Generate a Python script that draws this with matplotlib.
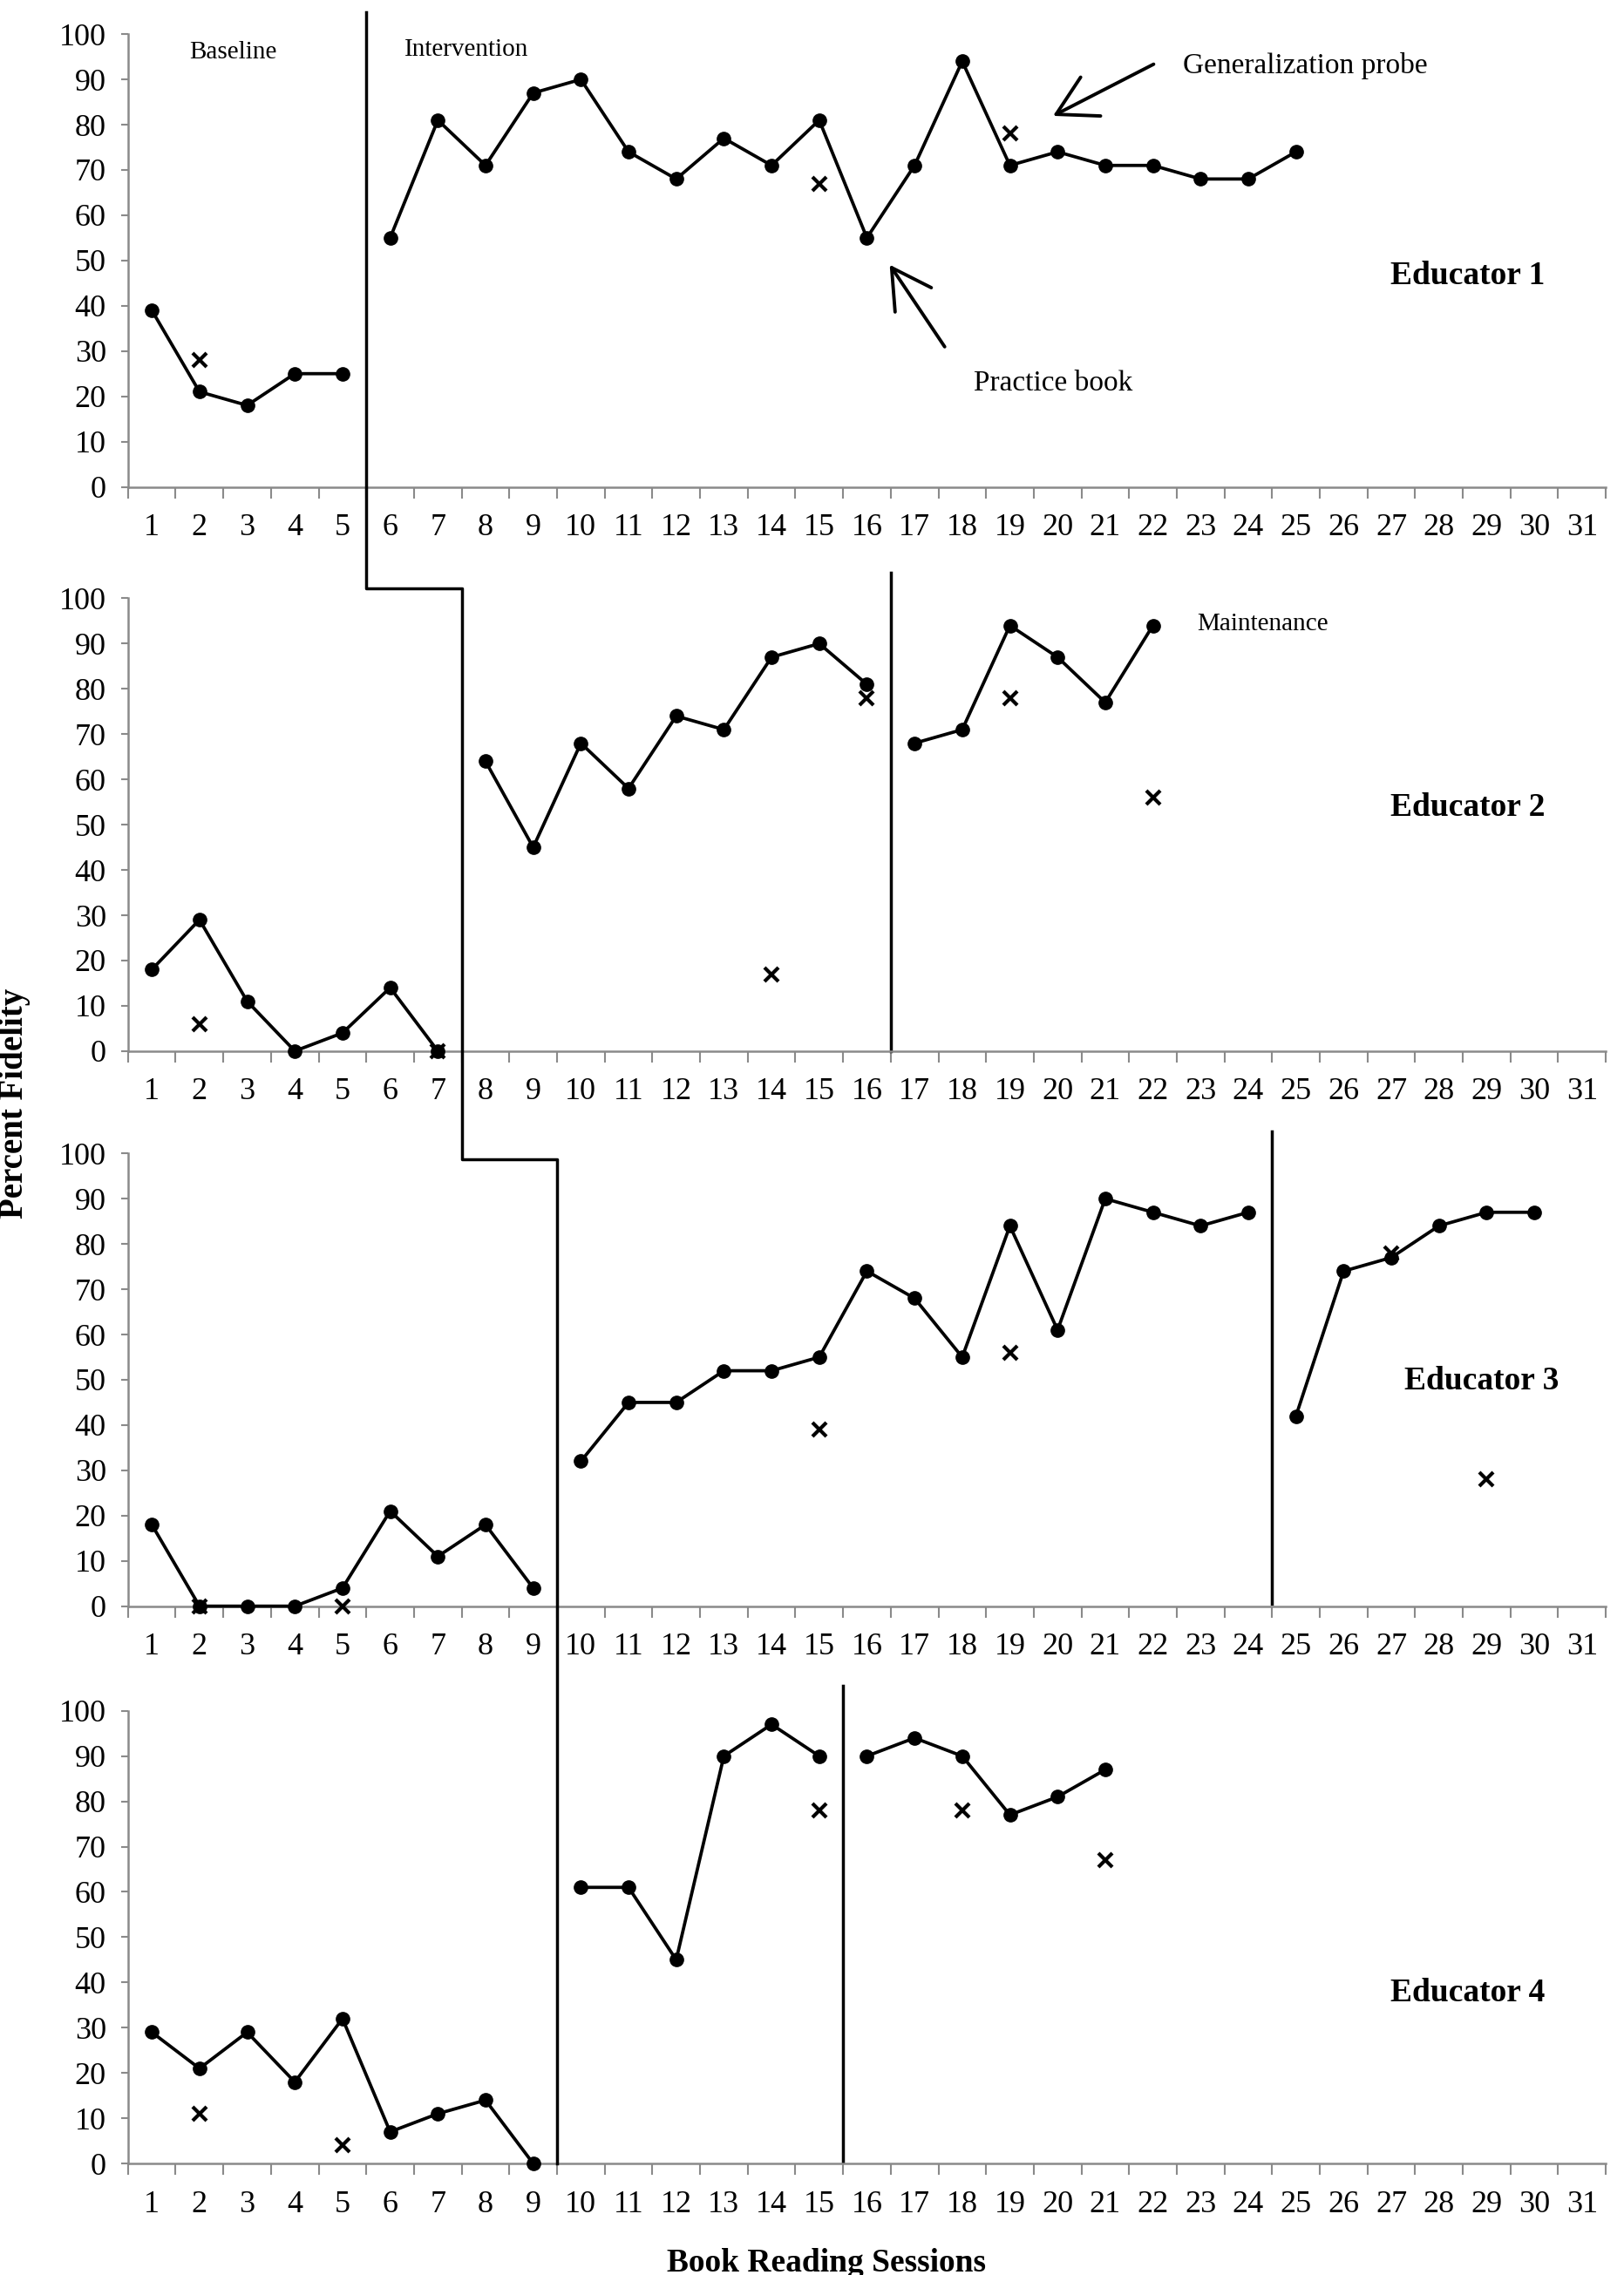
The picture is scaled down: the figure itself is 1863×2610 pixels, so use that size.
import matplotlib
matplotlib.use('Agg')
import matplotlib.pyplot as plt
from matplotlib.lines import Line2D
import numpy as np

plt.rcParams['font.family'] = 'Liberation Serif'
plt.rcParams['font.size'] = 26

# Data: practice book fidelity per session, generalization probes
e1_sessions = list(range(1, 26))
e1_fidelity = [39, 21, 18, 25, 25, 55, 81, 71, 87, 90, 74, 68, 77, 71, 81, 55, 71, 94, 71, 74, 71, 71, 68, 68, 74]
e1_probe_sessions = [2, 15, 19]
e1_probe_values = [28, 67, 78]

e2_sessions = list(range(1, 23))
e2_fidelity = [18, 29, 11, 0, 4, 14, 0, 64, 45, 68, 58, 74, 71, 87, 90, 81, 68, 71, 94, 87, 77, 94]
e2_probe_sessions = [2, 7, 14, 16, 19, 22]
e2_probe_values = [6, 0, 17, 78, 78, 56]

e3_sessions = list(range(1, 31))
e3_fidelity = [18, 0, 0, 0, 4, 21, 11, 18, 4, 32, 45, 45, 52, 52, 55, 74, 68, 55, 84, 61, 90, 87, 84, 87,
               42, 74, 77, 84, 87, 87]
e3_probe_sessions = [2, 5, 15, 19, 27, 29]
e3_probe_values = [0, 0, 39, 56, 78, 28]

e4_sessions = list(range(1, 22))
e4_fidelity = [29, 21, 29, 18, 32, 7, 11, 14, 0, 61, 61, 45, 90, 97, 90, 90, 94, 90, 77, 81, 87]
e4_probe_sessions = [2, 5, 15, 18, 21]
e4_probe_values = [11, 4, 78, 78, 67]

# phase changes (between sessions)
e1_breaks = [5.5]
e2_breaks = [7.5, 16.5]
e3_breaks = [9.5, 24.5]
e4_breaks = [9.5, 15.5]

educators = ['Educator 1', 'Educator 2', 'Educator 3', 'Educator 4']
x_ticklabels = [str(i) for i in range(1, 32)]

fig = plt.figure(figsize=(18.63, 26.10), dpi=100)

left, width = 0.0788, 0.910
bottoms = [0.786, 0.538, 0.294, 0.049]
height = 0.199
axes = [fig.add_axes([left, b, width, height]) for b in bottoms]

grey = '#8a8a8a'
panels = [
    (e1_sessions, e1_fidelity, e1_probe_sessions, e1_probe_values, e1_breaks),
    (e2_sessions, e2_fidelity, e2_probe_sessions, e2_probe_values, e2_breaks),
    (e3_sessions, e3_fidelity, e3_probe_sessions, e3_probe_values, e3_breaks),
    (e4_sessions, e4_fidelity, e4_probe_sessions, e4_probe_values, e4_breaks),
]
label_pos = [(28.6, 46.6), (28.6, 53.8), (28.9, 49.8), (28.6, 37.6)]

for ax, (sess, fid, ps, pv, brks), name, lp in zip(axes, panels, educators, label_pos):
    sess = np.array(sess)
    fid = np.array(fid)
    edges = [0] + brks + [99]
    for lo, hi in zip(edges[:-1], edges[1:]):
        m = (sess > lo) & (sess < hi)
        ax.plot(sess[m], fid[m], color='black', lw=2.7, marker='o', ms=11, clip_on=False, zorder=3)
    ax.plot(ps, pv, linestyle='none', marker='x', color='black', ms=11, mew=3, clip_on=False, zorder=4)

    ax.set_xlim(0.5, 31.5)
    ax.set_ylim(0, 100)
    ax.set_xticks(range(1, 32))
    ax.set_xticklabels(x_ticklabels)
    ax.set_xticks(np.arange(0.5, 32, 1), minor=True)
    ax.tick_params(axis='x', which='major', length=0, pad=22, labelsize=26)
    ax.tick_params(axis='x', which='minor', length=9, width=1.5, color=grey, direction='out')
    ax.set_yticks(range(0, 101, 10))
    ax.tick_params(axis='y', length=6, width=1.5, color=grey, pad=12, labelsize=26)
    for s in ['top', 'right']:
        ax.spines[s].set_visible(False)
    for s in ['left', 'bottom']:
        ax.spines[s].set_color(grey)
        ax.spines[s].set_linewidth(1.8)
    ax.patch.set_alpha(0)

    ax.text(lp[0], lp[1], name, ha='center', va='center', fontsize=27, fontweight='bold')

ax1, ax2, ax3, ax4 = axes

# phase labels and annotations
ax1.text(2.7, 96, 'Baseline', ha='center', va='center', fontsize=21)
ax1.text(7.6, 96.5, 'Intervention', ha='center', va='center', fontsize=21)
ax2.text(24.3, 94.3, 'Maintenance', ha='center', va='center', fontsize=21)

arrow = dict(arrowstyle='->,head_length=0.8,head_width=0.45', lw=2.8, color='black',
             mutation_scale=40)
ax1.text(25.2, 93, 'Generalization probe', ha='center', va='center', fontsize=24)
ax1.annotate('', xy=(19.86, 81.7), xytext=(22.06, 93.6), arrowprops=arrow)
ax1.text(19.9, 22.8, 'Practice book', ha='center', va='center', fontsize=24)
ax1.annotate('', xy=(16.45, 49.5), xytext=(17.66, 30.5), arrowprops=arrow)

# single phase lines inside panels
ax2.plot([16.5, 16.5], [0, 105.7], color='black', lw=2.5, clip_on=False)
ax3.plot([24.5, 24.5], [0.5, 104.8], color='black', lw=2.5, clip_on=False)
ax4.plot([15.5, 15.5], [0.5, 105.5], color='black', lw=2.5, clip_on=False)

# staircase phase line crossing the panels
step = [(ax1, 5.5, 104.8), (ax2, 5.5, 102.2), (ax2, 7.5, 102.2),
        (ax3, 7.5, 98.7), (ax3, 9.5, 98.7), (ax4, 9.5, 0)]
inv = fig.transFigure.inverted()
pts = [inv.transform(a.transData.transform((x, y))) for a, x, y in step]
fig.add_artist(Line2D([p[0] for p in pts], [p[1] for p in pts], color='black', lw=2.5,
                      transform=fig.transFigure))

fig.text(0.009, 0.515, 'Percent Fidelity', rotation=90, ha='center', va='center',
         fontsize=28, fontweight='bold')
fig.text(0.509, 0.0015, 'Book Reading Sessions', ha='center', va='baseline',
         fontsize=27, fontweight='bold')

fig.savefig('out.png', dpi=100)
